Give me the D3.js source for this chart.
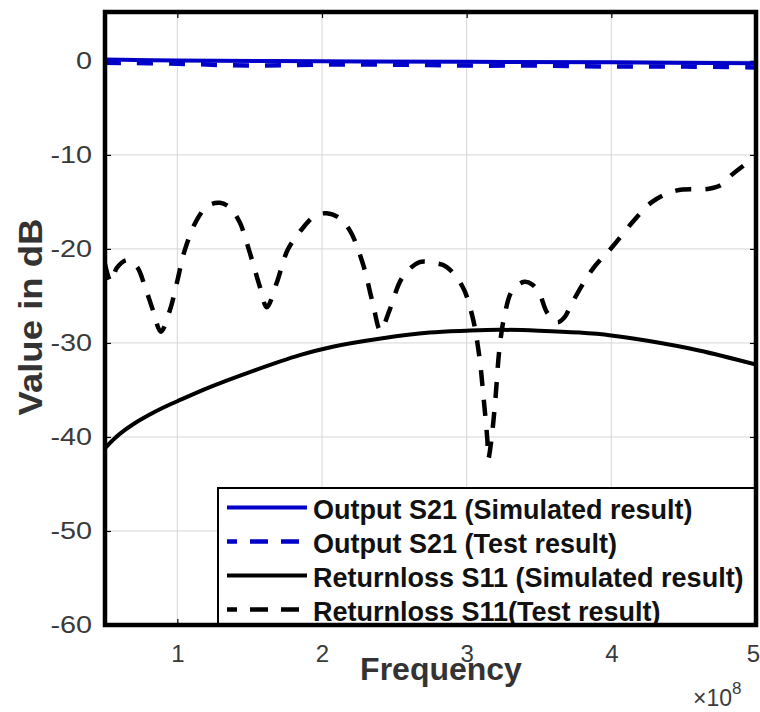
<!DOCTYPE html>
<html>
<head>
<meta charset="utf-8">
<script src="https://cdn.jsdelivr.net/npm/d3@7"></script>
<style>
  html, body { margin: 0; padding: 0; background: #fff; }
  svg { display: block; font-family: "Liberation Sans", Arial, Helvetica, sans-serif; }
</style>
</head>
<body>
<svg id="chart" width="760" height="712"></svg>
<script>
// Frequency axis values are in units of 1e8 Hz (axis shows the x10^8 multiplier)
const s21SimFreq = [0.5, 1.0, 2.0, 3.0, 4.0, 5.0];
const s21SimDb   = [0.15, 0.05, -0.05, -0.1, -0.15, -0.25];

const s21TestFreq = [0.5, 1.0, 1.5, 2.0, 2.5, 3.0, 3.5, 4.0, 4.5, 5.0];
const s21TestDb   = [-0.2, -0.3, -0.5, -0.4, -0.4, -0.5, -0.5, -0.6, -0.6, -0.7];

const s11SimFreq = [0.5, 0.55, 0.6, 0.7, 0.8, 0.9, 1.0, 1.225, 1.501, 1.846, 2.074, 2.419,
                    2.743, 2.998, 3.226, 3.502, 3.778, 3.999, 4.261, 4.606, 5.0];
const s11SimDb   = [-41.2, -40.4, -39.7, -38.6, -37.7, -36.9, -36.2, -34.7, -33.1, -31.3,
                    -30.4, -29.5, -28.9, -28.7, -28.6, -28.7, -28.9, -29.2, -29.8, -30.8, -32.3];

const s11TestFreq = [0.5, 0.541, 0.583, 0.652, 0.721, 0.776, 0.831, 0.886, 0.949, 0.997,
                     1.052, 1.135, 1.211, 1.294, 1.363, 1.432, 1.501, 1.570, 1.618, 1.687,
                     1.763, 1.866, 1.949, 2.032, 2.108, 2.191, 2.281, 2.350, 2.405, 2.467,
                     2.557, 2.674, 2.777, 2.860, 2.971, 3.040, 3.088, 3.116, 3.143, 3.150,
                     3.171, 3.198, 3.226, 3.260, 3.316, 3.399, 3.454, 3.502, 3.557, 3.626,
                     3.675, 3.730, 3.868, 4.006, 4.144, 4.282, 4.447, 4.675, 4.758, 4.834,
                     4.917, 5.0];
const s11TestDb   = [-21.6, -23.5, -22.0, -21.2, -21.9, -24.0, -26.5, -28.8, -26.5, -23.6,
                     -20.1, -16.9, -15.4, -15.1, -15.6, -17.2, -20.4, -24.0, -26.2, -23.6,
                     -20.1, -17.8, -16.5, -16.2, -16.6, -18.0, -21.5, -25.7, -28.7, -26.5,
                     -23.0, -21.4, -21.5, -21.9, -24.0, -27.2, -31.5, -35.7, -40.3, -42.3,
                     -40.3, -36.1, -30.7, -27.2, -24.4, -23.5, -23.8, -24.7, -26.8, -27.8,
                     -27.3, -25.7, -22.2, -19.8, -17.2, -15.0, -13.8, -13.6, -13.2, -12.1,
                     -11.1, -10.2];

const xTicks = [1, 2, 3, 4, 5];
const yTicks = [0, -10, -20, -30, -40, -50, -60];
const xDomain = [0.5, 5];
const yDomain = [-60, 5.2];

const legendLabels = [
  "Output S21 (Simulated result)",
  "Output S21 (Test result)",
  "Returnloss S11 (Simulated result)",
  "Returnloss S11(Test result)"
];

const blue = "#0000c8";
const styles = [
  { color: blue, width: 4, dash: null },
  { color: blue, width: 4.5, dash: "16,16" },
  { color: "#000", width: 4, dash: null },
  { color: "#000", width: 4.5, dash: "16,14" }
];

const series = [
  { f: s21SimFreq, v: s21SimDb },
  { f: s21TestFreq, v: s21TestDb },
  { f: s11SimFreq, v: s11SimDb },
  { f: s11TestFreq, v: s11TestDb }
];

const plot = { left: 105, right: 756, top: 12, bottom: 625 };

const svg = d3.select("#chart");
const x = d3.scaleLinear().domain(xDomain).range([plot.left, plot.right]);
const y = d3.scaleLinear().domain(yDomain).range([plot.bottom, plot.top]);

// grid
const grid = svg.append("g").attr("stroke", "#d6d6d6").attr("stroke-width", 1);
grid.selectAll(".gx").data(xTicks.filter(t => t < xDomain[1])).enter().append("line")
  .attr("x1", d => x(d)).attr("x2", d => x(d))
  .attr("y1", plot.top).attr("y2", plot.bottom);
grid.selectAll(".gy").data(yTicks.filter(t => t > yDomain[0])).enter().append("line")
  .attr("x1", plot.left).attr("x2", plot.right)
  .attr("y1", d => y(d)).attr("y2", d => y(d));

// axes (inward ticks on all four sides)
const tickColor = "#3a3a3a";
const plain = d => String(d);
const xAxisB = d3.axisBottom(x).tickValues(xTicks).tickSize(-6).tickPadding(20).tickFormat(plain);
const xAxisT = d3.axisTop(x).tickValues(xTicks).tickSize(-6).tickFormat("");
const yAxisL = d3.axisLeft(y).tickValues(yTicks).tickSize(-6).tickPadding(13).tickFormat(plain);
const yAxisR = d3.axisRight(y).tickValues(yTicks).tickSize(-6).tickFormat("");

// tick labels are set a little wide
function widen(sel, k) {
  sel.each(function () {
    const w = this.getComputedTextLength();
    d3.select(this).attr("textLength", w * k).attr("lengthAdjust", "spacingAndGlyphs");
  });
}

function styleAxis(g) {
  g.select(".domain").remove();
  g.selectAll(".tick line").attr("stroke", "#000").attr("stroke-width", 1.2);
  g.selectAll(".tick text").attr("fill", tickColor).attr("font-size", 24)
    .attr("font-family", '"Liberation Sans", Arial, sans-serif');
}
const gxb = svg.append("g").attr("transform", `translate(0,${plot.bottom})`).call(xAxisB).call(styleAxis);
gxb.selectAll(".tick text").filter(d => d === 5).attr("dx", -3);
svg.append("g").attr("transform", `translate(0,${plot.top})`).call(xAxisT).call(styleAxis);
const gyl = svg.append("g").attr("transform", `translate(${plot.left},0)`).call(yAxisL).call(styleAxis);
widen(gyl.selectAll(".tick text"), 1.2);
svg.append("g").attr("transform", `translate(${plot.right},0)`).call(yAxisR).call(styleAxis);

// clip for curves
svg.append("clipPath").attr("id", "plotClip").append("rect")
  .attr("x", plot.left).attr("y", plot.top)
  .attr("width", plot.right - plot.left).attr("height", plot.bottom - plot.top);

const line = d3.line().x(d => x(d[0])).y(d => y(d[1])).curve(d3.curveCatmullRom.alpha(0.5));

const curves = svg.append("g").attr("clip-path", "url(#plotClip)");
// draw order: S11 first, then S21 on top
[3, 2, 1, 0].forEach(i => {
  const s = series[i];
  const pts = s.f.map((f, k) => [f, s.v[k]]);
  curves.append("path")
    .attr("d", line(pts))
    .attr("fill", "none")
    .attr("stroke", styles[i].color)
    .attr("stroke-width", styles[i].width)
    .attr("stroke-dasharray", styles[i].dash)
    .attr("stroke-linejoin", "round");
});

// legend
const leg = { left: 218, top: 488, right: plot.right, bottom: plot.bottom };
svg.append("rect")
  .attr("x", leg.left).attr("y", leg.top)
  .attr("width", leg.right - leg.left).attr("height", leg.bottom - leg.top)
  .attr("fill", "#fff").attr("stroke", "#000").attr("stroke-width", 2);
const rowBase = [519, 553, 587, 621];
legendLabels.forEach((lab, i) => {
  svg.append("line")
    .attr("x1", 227).attr("x2", 307)
    .attr("y1", rowBase[i] - 11.5).attr("y2", rowBase[i] - 11.5)
    .attr("stroke", styles[i].color)
    .attr("stroke-width", styles[i].width)
    .attr("stroke-dasharray", styles[i].dash ? "18,13" : null)
    .attr("stroke-dashoffset", styles[i].dash ? 8 : null);
  svg.append("text")
    .attr("x", 313).attr("y", rowBase[i])
    .attr("font-size", 27).attr("font-weight", "bold").attr("fill", "#111")
    .text(lab);
});

// frame
svg.append("rect")
  .attr("x", plot.left).attr("y", plot.top)
  .attr("width", plot.right - plot.left).attr("height", plot.bottom - plot.top)
  .attr("fill", "none").attr("stroke", "#000").attr("stroke-width", 4.5);

// axis titles
svg.append("text")
  .attr("x", 441).attr("y", 680)
  .attr("text-anchor", "middle")
  .attr("font-size", 32).attr("font-weight", "bold").attr("fill", "#333")
  .text("Frequency");

svg.append("text")
  .attr("transform", "translate(42,317) rotate(-90)")
  .attr("text-anchor", "middle")
  .attr("font-size", 33).attr("font-weight", "bold").attr("fill", "#333")
  .attr("textLength", 197).attr("lengthAdjust", "spacingAndGlyphs")
  .text("Value in dB");

// exponent label
const expo = svg.append("text")
  .attr("x", 693).attr("y", 706)
  .attr("font-size", 23).attr("fill", tickColor);
expo.append("tspan").text("\u00d710");
expo.append("tspan").attr("dy", -12).attr("font-size", 17).text("8");
</script>
</body>
</html>
